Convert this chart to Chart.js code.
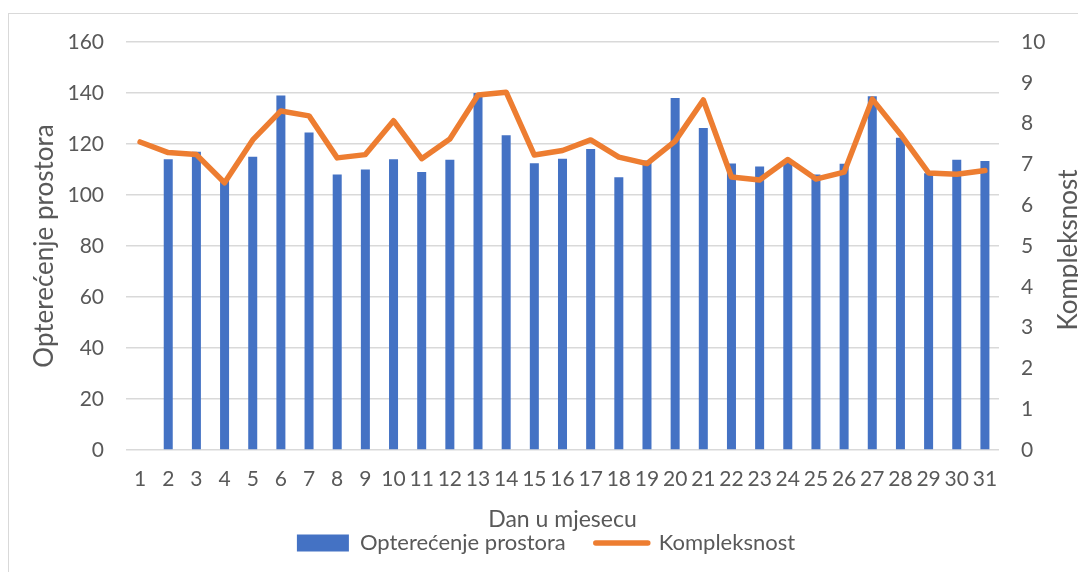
<!DOCTYPE html>
<html>
<head>
<meta charset="utf-8">
<script src="https://cdn.jsdelivr.net/npm/chart.js@4"></script>
<style>
    html, body { margin: 0; padding: 0; background: #fff; overflow: hidden; }
    #frame {
        position: absolute; left: 8px; top: 13px; width: 1200px; height: 700px;
        border: 1.5px solid #d9d9d9;
    }
    #wrap { position: absolute; left: 0; top: 0; width: 1078px; height: 572px; }
</style>
</head>
<body>
<div id="frame"></div>
<div id="wrap"><canvas id="chart" width="1078" height="572"></canvas></div>
<script>
// Dan u mjesecu
const dani = ['1','2','3','4','5','6','7','8','9','10','11','12','13','14','15','16',
    '17','18','19','20','21','22','23','24','25','26','27','28','29','30','31'];

// Opterećenje prostora (lijeva os)
const opterecenje = [null, 114, 117, 106, 115, 139, 124.5, 108, 110, 114, 109, 113.8,
    140, 123.4, 112.5, 114.2, 118, 107, 113.5, 138, 126.3, 112.4, 111.2, 112.7,
    108, 112.3, 138.7, 122.5, 108.5, 113.8, 113.3];

// Kompleksnost (desna os)
const kompleksnost = [7.55, 7.29, 7.24, 6.55, 7.6, 8.31, 8.19, 7.16, 7.24, 8.07, 7.14,
    7.62, 8.7, 8.77, 7.23, 7.34, 7.6, 7.18, 7.02, 7.57, 8.58, 6.69, 6.62, 7.12,
    6.64, 6.81, 8.6, 7.74, 6.79, 6.76, 6.85];

const lijeviTicks = [0, 20, 40, 60, 80, 100, 120, 140, 160];
const desniTicks = [0, 1, 2, 3, 4, 5, 6, 7, 8, 9, 10];

const TEXT = '#595959';
const FONT = 'Lato';
const BLUE = '#4472C4';
const ORANGE = '#ED7D31';

// naslov desne osi, čita se odozdo prema gore
const desniNaslov = {
    id: 'desniNaslov',
    afterDraw(chart) {
        const ctx = chart.ctx;
        const area = chart.chartArea;
        ctx.save();
        ctx.translate(1069, (area.top + area.bottom) / 2 + 4);
        ctx.rotate(-Math.PI / 2);
        ctx.font = '26px ' + FONT;
        ctx.fillStyle = TEXT;
        ctx.textAlign = 'center';
        ctx.textBaseline = 'middle';
        ctx.fillText('Kompleksnost', 0, 0);
        ctx.restore();
    }
};

Chart.defaults.font.family = FONT;
Chart.defaults.color = TEXT;

new Chart(document.getElementById('chart').getContext('2d'), {
    data: {
        labels: dani,
        datasets: [
            {
                type: 'line',
                label: 'Kompleksnost',
                data: kompleksnost,
                yAxisID: 'y2',
                borderColor: ORANGE,
                backgroundColor: ORANGE,
                borderWidth: 5.5,
                pointRadius: 0,
                borderJoinStyle: 'round',
                borderCapStyle: 'round',
                tension: 0,
                order: 1
            },
            {
                type: 'bar',
                label: 'Opterećenje prostora',
                data: opterecenje,
                yAxisID: 'y',
                backgroundColor: BLUE,
                barPercentage: 0.32,
                categoryPercentage: 1,
                order: 2
            }
        ]
    },
    options: {
        responsive: false,
        animation: false,
        layout: { padding: { top: 42, left: 14, right: 0, bottom: 8 } },
        plugins: {
            tooltip: { enabled: false },
            legend: {
                position: 'bottom',
                reverse: true,
                labels: {
                    font: { size: 22, family: FONT },
                    color: TEXT,
                    usePointStyle: true,
                    pointStyleWidth: 52,
                    boxHeight: 17,
                    padding: 30,
                    generateLabels(chart) {
                        return chart.data.datasets.map((ds, i) => ({
                            text: ds.label,
                            datasetIndex: i,
                            fillStyle: ds.type === 'bar' ? BLUE : ORANGE,
                            strokeStyle: ds.type === 'bar' ? BLUE : ORANGE,
                            lineWidth: ds.type === 'bar' ? 0 : 5.5,
                            lineCap: 'round',
                            pointStyle: ds.type === 'bar' ? 'rect' : 'line',
                            fontColor: TEXT
                        }));
                    }
                }
            }
        },
        scales: {
            x: {
                offset: true,
                afterFit: s => { s.height = 52; },
                grid: { display: false, drawTicks: false },
                border: { display: false },
                ticks: { font: { size: 21 }, color: TEXT, padding: 17, maxRotation: 0, autoSkip: false },
                title: {
                    display: true,
                    text: 'Dan u mjesecu',
                    color: TEXT,
                    font: { size: 23, family: FONT },
                    padding: { top: 0, bottom: -31.8 }
                }
            },
            y: {
                position: 'left',
                min: 0,
                max: 160,
                afterFit: s => { s.width = 112; },
                afterBuildTicks: s => { s.ticks = lijeviTicks.map(v => ({ value: v })); },
                grid: { color: '#d9d9d9', lineWidth: 1.5, drawTicks: false },
                border: { display: false },
                ticks: { font: { size: 21 }, color: TEXT, padding: 22 },
                title: {
                    display: true,
                    text: 'Opterećenje prostora',
                    color: TEXT,
                    font: { size: 26, family: FONT },
                    padding: { top: 15.4, bottom: 0 }
                }
            },
            y2: {
                position: 'right',
                min: 0,
                max: 10,
                afterFit: s => { s.width = 79; },
                afterBuildTicks: s => { s.ticks = desniTicks.map(v => ({ value: v })); },
                grid: { display: false, drawTicks: false },
                border: { display: false },
                ticks: { font: { size: 21 }, color: TEXT, padding: 22 }
            }
        }
    },
    plugins: [desniNaslov]
});
</script>
</body>
</html>
